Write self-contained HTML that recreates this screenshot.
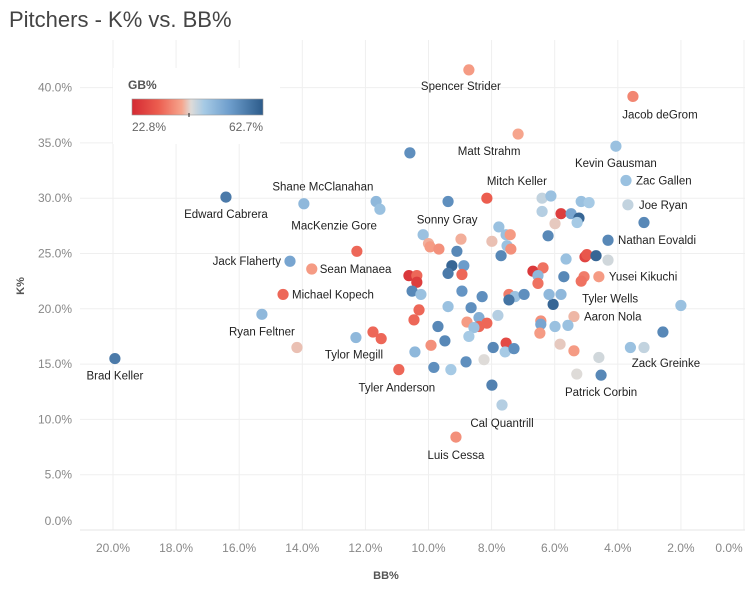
<!DOCTYPE html>
<html><head><meta charset="utf-8"><style>
html,body{margin:0;padding:0;background:#fff;}
body{width:753px;height:588px;overflow:hidden;font-family:"Liberation Sans",sans-serif;}
svg text{font-family:"Liberation Sans",sans-serif;}
</style></head><body>
<svg id="chart" width="753" height="588" viewBox="0 0 753 588" xmlns="http://www.w3.org/2000/svg">
<text x="9" y="27" font-size="22" fill="#444">Pitchers - K% vs. BB%</text>
<g id="grid"></g>
<g id="xaxis"></g>
<g id="yaxis"></g>
<text transform="translate(24,286) rotate(-90)" text-anchor="middle" font-size="11" font-weight="bold" fill="#555">K%</text>
<text x="386" y="579" text-anchor="middle" font-size="11" font-weight="bold" fill="#555">BB%</text>
<g id="legend">
<rect x="113" y="68" width="167" height="76" fill="#fff"/>
<text x="128" y="89" font-size="12" font-weight="bold" fill="#555">GB%</text>
<defs><linearGradient id="gbgrad" x1="0" x2="1" y1="0" y2="0">
<stop offset="0" stop-color="#d42a33"/><stop offset="0.2" stop-color="#ec5d4f"/><stop offset="0.38" stop-color="#f6a58d"/>
<stop offset="0.45" stop-color="#dedbd8"/><stop offset="0.55" stop-color="#a6cae5"/><stop offset="0.75" stop-color="#6c9ccb"/><stop offset="1" stop-color="#2c5b8a"/></linearGradient></defs>
<rect x="132" y="99" width="131" height="16" fill="url(#gbgrad)" stroke="#999" stroke-width="0.6"/>
<line x1="189" y1="113" x2="189" y2="117" stroke="#222" stroke-width="1"/>
<text x="132" y="131" font-size="12" fill="#666">22.8%</text>
<text x="263" y="131" font-size="12" fill="#666" text-anchor="end">62.7%</text>
</g>
<g id="points"></g>
<g id="labels"></g>
</svg>
<script>
const xTicks = [20,18,16,14,12,10,8,6,4,2,0];
const yTicks = [0,5,10,15,20,25,30,35,40];
const names = ["Spencer Strider","Jacob deGrom","Matt Strahm","Kevin Gausman","Zac Gallen","Joe Ryan","Nathan Eovaldi","Yusei Kikuchi","Tyler Wells","Aaron Nola","Zack Greinke","Patrick Corbin","Cal Quantrill","Luis Cessa","Tyler Anderson","Tylor Megill","Ryan Feltner","Brad Keller","Michael Kopech","Sean Manaea","Jack Flaherty","Edward Cabrera","Shane McClanahan","MacKenzie Gore","Mitch Keller","Sonny Gray"];
const bbVals = [8.72,3.52,7.16,4.06,3.74,3.68,4.31,4.6,6.05,5.39,2.57,4.53,7.67,9.13,10.94,12.3,15.28,19.94,14.61,13.7,14.39,16.42,13.95,11.66,8.15,10.17,
2.0,3.6,3.17,5.3,4.6,3.17,14.17,11.54,10.59,12.27,11.76,11.5,10.43,9.38,6.4,6.12,6.4,5.8,5.48,5.23,5.29,5.16,4.91,5.99,6.21,7.77,7.54,7.41,7.51,7.39,7.7,7.99,8.97,10.0,9.95,9.67,9.1,9.26,9.38,8.88,8.94,10.62,10.37,10.37,10.52,10.24,8.94,8.3,7.45,7.26,6.97,7.45,6.69,6.37,6.53,6.53,5.71,5.64,5.04,4.98,4.69,4.31,5.07,5.16,6.18,5.8,9.38,8.65,10.3,10.46,9.7,8.78,8.4,8.4,8.15,8.56,7.8,6.44,6.44,5.99,5.58,6.47,8.72,9.48,9.92,7.54,7.95,7.57,7.29,9.83,9.29,8.81,8.24,7.99,5.83,5.39];
const kVals = [41.6,39.2,35.8,34.7,31.6,29.4,26.2,22.9,20.4,19.3,17.9,14.0,11.3,8.4,14.5,17.4,19.5,15.5,21.3,23.6,24.3,30.1,29.5,29.7,30.0,26.7,
20.3,16.5,16.5,14.1,15.6,27.8,16.5,29.0,34.1,25.2,17.9,17.3,16.1,29.7,30.0,30.2,28.8,28.6,28.6,28.2,27.8,29.7,29.6,27.7,26.6,27.4,26.7,26.7,25.7,25.4,24.8,26.1,26.3,25.9,25.6,25.4,25.2,23.9,23.2,23.9,23.1,23.0,23.0,22.4,21.6,21.3,21.6,21.1,21.3,21.1,21.3,20.8,23.4,23.7,23.0,22.3,22.9,24.5,24.7,24.9,24.8,24.4,22.9,22.5,21.3,21.3,20.2,20.1,19.9,19.0,18.4,18.8,19.2,18.4,18.7,18.3,19.4,18.9,18.6,18.4,18.5,17.8,17.5,17.1,16.7,16.9,16.5,16.1,16.4,14.7,14.5,15.2,15.4,13.1,16.8,16.2];
const gbVals = [37,35,38,49,49,46,56,37,61,40,56,56,47,36,32,50,50,58,32,37,52,58,50,50,31,49,
49,49,46,44,45,56,41,49,55,32,32,32,50,55,46,49,47,26,52,61,48,49,48,42,56,49,49,37,49,36,56,41,39,39,37,36,56,61,58,53,32,25,32,26,56,49,54,55,34,49,55,59,25,33,50,33,56,49,27,30,61,45,34,33,50,50,49,55,32,32,56,37,51,32,32,49,47,36,52,49,49,37,48,56,36,28,56,48,55,55,48,55,44,57,42,37];
const labelPos = [[-8,16,"middle"],[27,18,"middle"],[-29,17,"middle"],[0,17,"middle"],[10,0,"start"],[11,0,"start"],[10,0,"start"],[10,0,"start"],[29,-6,"start"],[10,0,"start"],[3,31,"middle"],[0,17,"middle"],[0,18,"middle"],[0,18,"middle"],[-2,18,"middle"],[-2,17,"middle"],[0,17,"middle"],[0,17,"middle"],[9,0,"start"],[8,0,"start"],[-9,0,"end"],[0,17,"middle"],[19,-17,"middle"],[-42,24,"middle"],[30,-17,"middle"],[24,-15,"middle"]];

const X0=80, X1=745, Y0=40, Y1=530;
function xs(v){return 113+(20-v)*31.55;}
function ys(v){return 530-v*11.06;}
const stops=[[22.8,[212,42,51]],[31,[236,93,79]],[38,[246,165,141]],[44,[222,219,216]],[48,[166,202,229]],[53,[108,156,203]],[62.7,[44,91,138]]];
function color(g){
  if(g<=stops[0][0])return 'rgb('+stops[0][1]+')';
  for(let i=1;i<stops.length;i++){
    if(g<=stops[i][0]){const a=stops[i-1],b=stops[i];const t=(g-a[0])/(b[0]-a[0]);
      const c=a[1].map((v,j)=>Math.round(v+(b[1][j]-v)*t));return 'rgb('+c.join(',')+')';}
  }
  return 'rgb('+stops[stops.length-1][1]+')';
}
const NS='http://www.w3.org/2000/svg';
function mk(tag,attrs,parent){const e=document.createElementNS(NS,tag);for(const k in attrs)e.setAttribute(k,attrs[k]);parent.appendChild(e);return e;}
const grid=document.getElementById('grid'),xa=document.getElementById('xaxis'),ya=document.getElementById('yaxis');
xTicks.forEach(v=>{
  const l=mk('line',{x1:xs(v),x2:xs(v),y1:Y0,y2:Y1,stroke:'#efefef','stroke-width':1},grid);
  
  
  const t=mk('text',{x:Math.min(xs(v),729),y:552,'text-anchor':'middle','font-size':12,fill:'#888'},xa);
  t.textContent=v.toFixed(1)+'%';
  
  
});
yTicks.forEach(v=>{
  const l=mk('line',{x1:X0,x2:X1,y1:ys(v),y2:ys(v),stroke:'#efefef','stroke-width':1},grid);
  
  
  const t=mk('text',{x:72,y:Math.min(ys(v),521)+4,'text-anchor':'end','font-size':12,fill:'#888'},ya);
  t.textContent=v.toFixed(1)+'%';
  
  
});
const bl=mk('line',{x1:X0,x2:X1,y1:Y1,y2:Y1,stroke:'#e6e6e6'},grid);


const pts=document.getElementById('points'),lbs=document.getElementById('labels');
for(let i=0;i<bbVals.length;i++){
  const c=mk('circle',{cx:xs(bbVals[i]),cy:ys(kVals[i]),r:5.6,fill:color(gbVals[i])},pts);
  
  
}
for(let i=0;i<names.length;i++){
  const p=labelPos[i];
  const t=mk('text',{x:xs(bbVals[i])+p[0],y:ys(kVals[i])+p[1]+4,'text-anchor':p[2],'font-size':11.5,fill:'#222'},lbs);
  t.textContent=names[i];
  
  
}
</script>
</body></html>
